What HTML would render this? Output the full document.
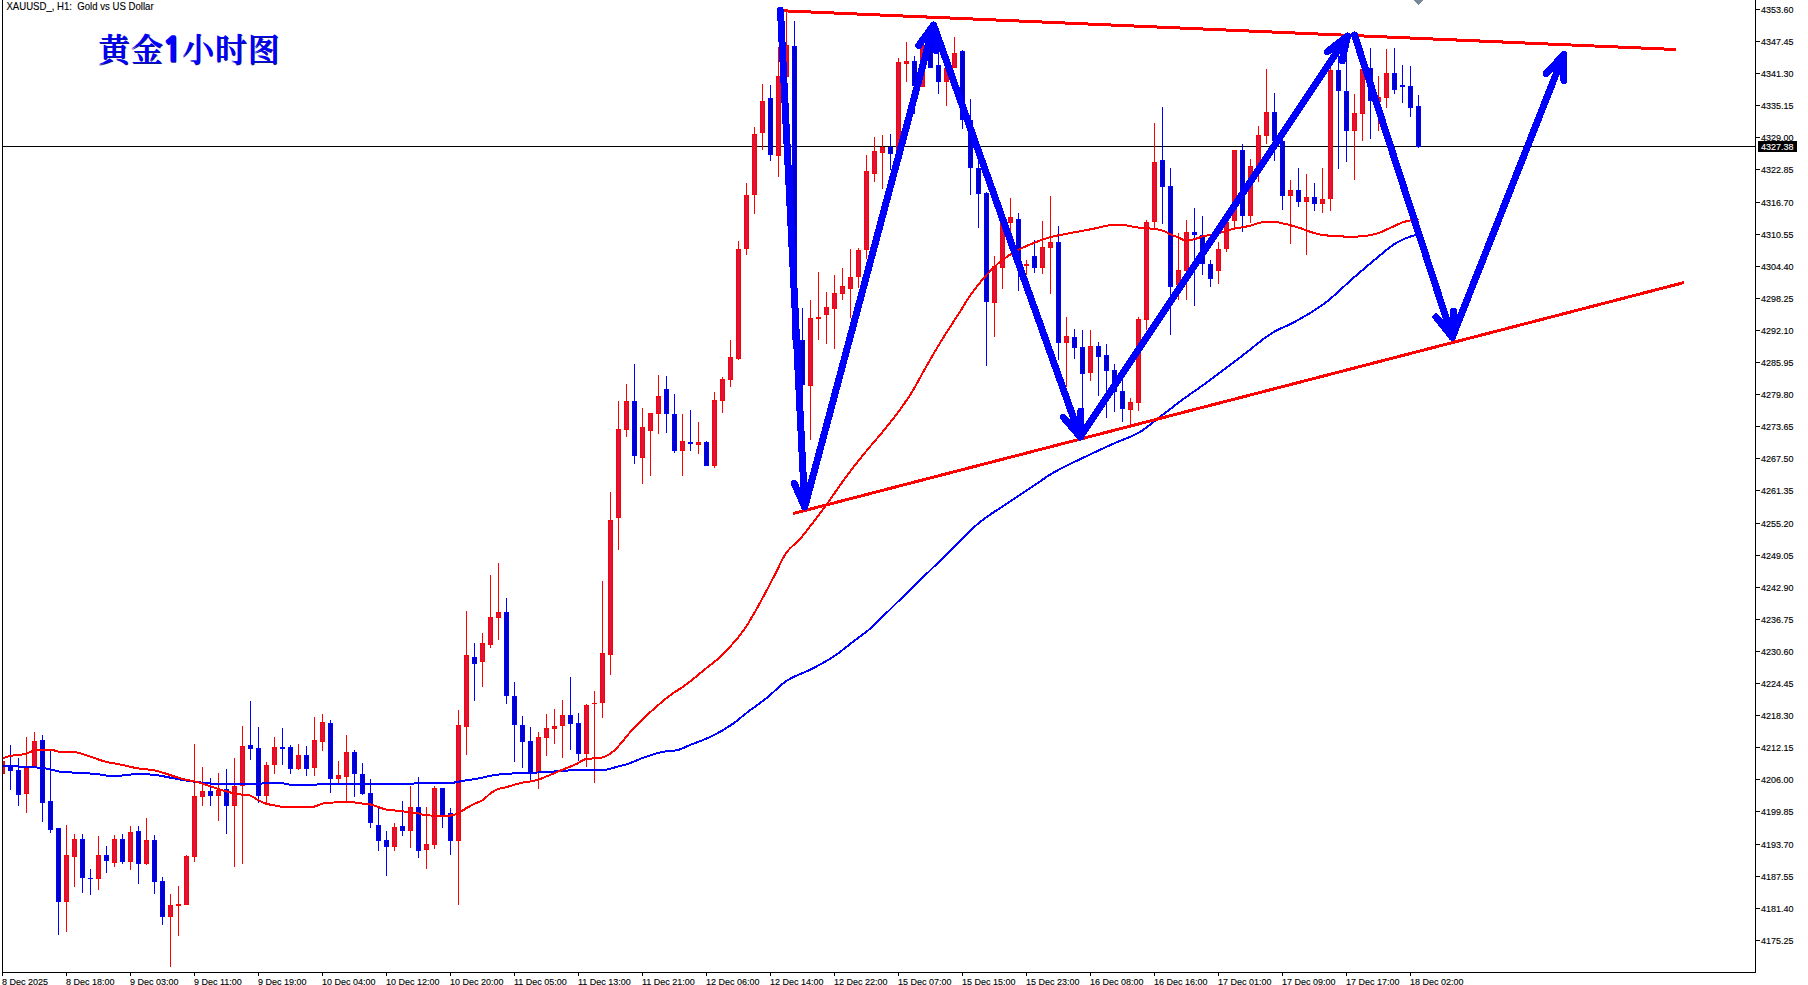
<!DOCTYPE html>
<html lang="zh"><head><meta charset="utf-8"><title>XAUUSD H1</title>
<style>
html,body{margin:0;padding:0;background:#fff;overflow:hidden}
body{width:1808px;height:985px;position:relative;font-family:"Liberation Sans","Noto Sans CJK SC",sans-serif}
svg{position:absolute;left:0;top:0;display:block}
.ax{font-family:"Liberation Sans",sans-serif;font-size:9px;fill:#000;stroke:#000;stroke-width:.12px}
.hd{font-family:"Liberation Sans",sans-serif;font-size:9.6px;fill:#000;stroke:#000;stroke-width:.12px}
.ttl{font-family:"Liberation Sans","Noto Serif CJK SC","Noto Sans CJK SC",serif;font-weight:600;font-size:32px;fill:#0000ff;letter-spacing:.8px}
.one{font-family:"NanumGothic","Liberation Sans",sans-serif;font-weight:bold;font-size:34px;stroke:currentColor;stroke-width:1.6px;stroke-linejoin:miter}
</style></head><body>
<svg width="1808" height="985" viewBox="0 0 1808 985">
<rect width="1808" height="985" fill="#fff"/>
<defs><clipPath id="plot"><rect x="3" y="0" width="1752" height="972"/></clipPath></defs>
<g shape-rendering="crispEdges">
<rect x="3" y="146" width="1753" height="1" fill="#000"/>
</g>
<g clip-path="url(#plot)" shape-rendering="crispEdges">
<rect x="2" y="761" width="1" height="13" fill="#ff0000"/>
<rect x="0" y="761" width="5" height="13" fill="#ff0000"/>
<rect x="1" y="762" width="3" height="11" fill="#dc143c"/>
<rect x="10" y="745" width="1" height="45" fill="#0000ff"/>
<rect x="8" y="765" width="5" height="6" fill="#0000ff"/>
<rect x="9" y="766" width="3" height="4" fill="#0000cd"/>
<rect x="18" y="758" width="1" height="48" fill="#0000ff"/>
<rect x="16" y="770" width="5" height="25" fill="#0000ff"/>
<rect x="17" y="771" width="3" height="23" fill="#0000cd"/>
<rect x="26" y="737" width="1" height="76" fill="#ff0000"/>
<rect x="24" y="768" width="5" height="26" fill="#ff0000"/>
<rect x="25" y="769" width="3" height="24" fill="#dc143c"/>
<rect x="34" y="732" width="1" height="35" fill="#ff0000"/>
<rect x="32" y="741" width="5" height="26" fill="#ff0000"/>
<rect x="33" y="742" width="3" height="24" fill="#dc143c"/>
<rect x="42" y="735" width="1" height="87" fill="#0000ff"/>
<rect x="40" y="740" width="5" height="63" fill="#0000ff"/>
<rect x="41" y="741" width="3" height="61" fill="#0000cd"/>
<rect x="50" y="750" width="1" height="83" fill="#0000ff"/>
<rect x="48" y="801" width="5" height="29" fill="#0000ff"/>
<rect x="49" y="802" width="3" height="27" fill="#0000cd"/>
<rect x="58" y="828" width="1" height="107" fill="#0000ff"/>
<rect x="56" y="828" width="5" height="74" fill="#0000ff"/>
<rect x="57" y="829" width="3" height="72" fill="#0000cd"/>
<rect x="66" y="825" width="1" height="107" fill="#ff0000"/>
<rect x="64" y="855" width="5" height="47" fill="#ff0000"/>
<rect x="65" y="856" width="3" height="45" fill="#dc143c"/>
<rect x="74" y="834" width="1" height="53" fill="#ff0000"/>
<rect x="72" y="839" width="5" height="18" fill="#ff0000"/>
<rect x="73" y="840" width="3" height="16" fill="#dc143c"/>
<rect x="82" y="834" width="1" height="59" fill="#0000ff"/>
<rect x="80" y="839" width="5" height="39" fill="#0000ff"/>
<rect x="81" y="840" width="3" height="37" fill="#0000cd"/>
<rect x="90" y="869" width="1" height="26" fill="#0000ff"/>
<rect x="88" y="878" width="5" height="1" fill="#0000ff"/>
<rect x="98" y="836" width="1" height="54" fill="#ff0000"/>
<rect x="96" y="855" width="5" height="24" fill="#ff0000"/>
<rect x="97" y="856" width="3" height="22" fill="#dc143c"/>
<rect x="106" y="846" width="1" height="27" fill="#0000ff"/>
<rect x="104" y="855" width="5" height="6" fill="#0000ff"/>
<rect x="105" y="856" width="3" height="4" fill="#0000cd"/>
<rect x="114" y="835" width="1" height="32" fill="#ff0000"/>
<rect x="112" y="839" width="5" height="24" fill="#ff0000"/>
<rect x="113" y="840" width="3" height="22" fill="#dc143c"/>
<rect x="122" y="834" width="1" height="30" fill="#0000ff"/>
<rect x="120" y="839" width="5" height="23" fill="#0000ff"/>
<rect x="121" y="840" width="3" height="21" fill="#0000cd"/>
<rect x="130" y="826" width="1" height="44" fill="#ff0000"/>
<rect x="128" y="832" width="5" height="30" fill="#ff0000"/>
<rect x="129" y="833" width="3" height="28" fill="#dc143c"/>
<rect x="138" y="826" width="1" height="58" fill="#0000ff"/>
<rect x="136" y="831" width="5" height="33" fill="#0000ff"/>
<rect x="137" y="832" width="3" height="31" fill="#0000cd"/>
<rect x="146" y="818" width="1" height="47" fill="#ff0000"/>
<rect x="144" y="840" width="5" height="24" fill="#ff0000"/>
<rect x="145" y="841" width="3" height="22" fill="#dc143c"/>
<rect x="154" y="835" width="1" height="59" fill="#0000ff"/>
<rect x="152" y="840" width="5" height="42" fill="#0000ff"/>
<rect x="153" y="841" width="3" height="40" fill="#0000cd"/>
<rect x="162" y="877" width="1" height="48" fill="#0000ff"/>
<rect x="160" y="881" width="5" height="36" fill="#0000ff"/>
<rect x="161" y="882" width="3" height="34" fill="#0000cd"/>
<rect x="170" y="894" width="1" height="73" fill="#ff0000"/>
<rect x="168" y="905" width="5" height="12" fill="#ff0000"/>
<rect x="169" y="906" width="3" height="10" fill="#dc143c"/>
<rect x="178" y="886" width="1" height="50" fill="#ff0000"/>
<rect x="176" y="904" width="5" height="2" fill="#ff0000"/>
<rect x="186" y="855" width="1" height="50" fill="#ff0000"/>
<rect x="184" y="856" width="5" height="49" fill="#ff0000"/>
<rect x="185" y="857" width="3" height="47" fill="#dc143c"/>
<rect x="194" y="744" width="1" height="118" fill="#ff0000"/>
<rect x="192" y="796" width="5" height="61" fill="#ff0000"/>
<rect x="193" y="797" width="3" height="59" fill="#dc143c"/>
<rect x="202" y="767" width="1" height="39" fill="#ff0000"/>
<rect x="200" y="791" width="5" height="6" fill="#ff0000"/>
<rect x="201" y="792" width="3" height="4" fill="#dc143c"/>
<rect x="210" y="778" width="1" height="28" fill="#0000ff"/>
<rect x="208" y="791" width="5" height="5" fill="#0000ff"/>
<rect x="209" y="792" width="3" height="3" fill="#0000cd"/>
<rect x="218" y="773" width="1" height="48" fill="#ff0000"/>
<rect x="216" y="790" width="5" height="6" fill="#ff0000"/>
<rect x="217" y="791" width="3" height="4" fill="#dc143c"/>
<rect x="226" y="769" width="1" height="65" fill="#0000ff"/>
<rect x="224" y="789" width="5" height="17" fill="#0000ff"/>
<rect x="225" y="790" width="3" height="15" fill="#0000cd"/>
<rect x="234" y="758" width="1" height="109" fill="#ff0000"/>
<rect x="232" y="786" width="5" height="20" fill="#ff0000"/>
<rect x="233" y="787" width="3" height="18" fill="#dc143c"/>
<rect x="242" y="726" width="1" height="138" fill="#ff0000"/>
<rect x="240" y="746" width="5" height="40" fill="#ff0000"/>
<rect x="241" y="747" width="3" height="38" fill="#dc143c"/>
<rect x="250" y="701" width="1" height="59" fill="#0000ff"/>
<rect x="248" y="745" width="5" height="4" fill="#0000ff"/>
<rect x="249" y="746" width="3" height="2" fill="#0000cd"/>
<rect x="258" y="727" width="1" height="76" fill="#0000ff"/>
<rect x="256" y="748" width="5" height="48" fill="#0000ff"/>
<rect x="257" y="749" width="3" height="46" fill="#0000cd"/>
<rect x="266" y="762" width="1" height="43" fill="#ff0000"/>
<rect x="264" y="765" width="5" height="31" fill="#ff0000"/>
<rect x="265" y="766" width="3" height="29" fill="#dc143c"/>
<rect x="274" y="737" width="1" height="37" fill="#ff0000"/>
<rect x="272" y="747" width="5" height="18" fill="#ff0000"/>
<rect x="273" y="748" width="3" height="16" fill="#dc143c"/>
<rect x="282" y="728" width="1" height="37" fill="#0000ff"/>
<rect x="280" y="747" width="5" height="2" fill="#0000ff"/>
<rect x="290" y="745" width="1" height="29" fill="#0000ff"/>
<rect x="288" y="747" width="5" height="22" fill="#0000ff"/>
<rect x="289" y="748" width="3" height="20" fill="#0000cd"/>
<rect x="298" y="744" width="1" height="26" fill="#ff0000"/>
<rect x="296" y="755" width="5" height="14" fill="#ff0000"/>
<rect x="297" y="756" width="3" height="12" fill="#dc143c"/>
<rect x="306" y="746" width="1" height="30" fill="#0000ff"/>
<rect x="304" y="755" width="5" height="14" fill="#0000ff"/>
<rect x="305" y="756" width="3" height="12" fill="#0000cd"/>
<rect x="314" y="717" width="1" height="59" fill="#ff0000"/>
<rect x="312" y="740" width="5" height="28" fill="#ff0000"/>
<rect x="313" y="741" width="3" height="26" fill="#dc143c"/>
<rect x="322" y="714" width="1" height="37" fill="#ff0000"/>
<rect x="320" y="722" width="5" height="20" fill="#ff0000"/>
<rect x="321" y="723" width="3" height="18" fill="#dc143c"/>
<rect x="330" y="720" width="1" height="73" fill="#0000ff"/>
<rect x="328" y="723" width="5" height="56" fill="#0000ff"/>
<rect x="329" y="724" width="3" height="54" fill="#0000cd"/>
<rect x="338" y="761" width="1" height="22" fill="#ff0000"/>
<rect x="336" y="775" width="5" height="4" fill="#ff0000"/>
<rect x="337" y="776" width="3" height="2" fill="#dc143c"/>
<rect x="346" y="735" width="1" height="67" fill="#ff0000"/>
<rect x="344" y="752" width="5" height="25" fill="#ff0000"/>
<rect x="345" y="753" width="3" height="23" fill="#dc143c"/>
<rect x="354" y="750" width="1" height="47" fill="#0000ff"/>
<rect x="352" y="752" width="5" height="22" fill="#0000ff"/>
<rect x="353" y="753" width="3" height="20" fill="#0000cd"/>
<rect x="362" y="763" width="1" height="32" fill="#0000ff"/>
<rect x="360" y="774" width="5" height="20" fill="#0000ff"/>
<rect x="361" y="775" width="3" height="18" fill="#0000cd"/>
<rect x="370" y="779" width="1" height="49" fill="#0000ff"/>
<rect x="368" y="793" width="5" height="30" fill="#0000ff"/>
<rect x="369" y="794" width="3" height="28" fill="#0000cd"/>
<rect x="378" y="808" width="1" height="43" fill="#0000ff"/>
<rect x="376" y="825" width="5" height="16" fill="#0000ff"/>
<rect x="377" y="826" width="3" height="14" fill="#0000cd"/>
<rect x="386" y="831" width="1" height="45" fill="#0000ff"/>
<rect x="384" y="840" width="5" height="7" fill="#0000ff"/>
<rect x="385" y="841" width="3" height="5" fill="#0000cd"/>
<rect x="394" y="823" width="1" height="28" fill="#ff0000"/>
<rect x="392" y="827" width="5" height="20" fill="#ff0000"/>
<rect x="393" y="828" width="3" height="18" fill="#dc143c"/>
<rect x="402" y="801" width="1" height="35" fill="#0000ff"/>
<rect x="400" y="826" width="5" height="5" fill="#0000ff"/>
<rect x="401" y="827" width="3" height="3" fill="#0000cd"/>
<rect x="410" y="786" width="1" height="62" fill="#ff0000"/>
<rect x="408" y="807" width="5" height="24" fill="#ff0000"/>
<rect x="409" y="808" width="3" height="22" fill="#dc143c"/>
<rect x="418" y="777" width="1" height="81" fill="#0000ff"/>
<rect x="416" y="807" width="5" height="44" fill="#0000ff"/>
<rect x="417" y="808" width="3" height="42" fill="#0000cd"/>
<rect x="426" y="807" width="1" height="62" fill="#ff0000"/>
<rect x="424" y="844" width="5" height="6" fill="#ff0000"/>
<rect x="425" y="845" width="3" height="4" fill="#dc143c"/>
<rect x="434" y="786" width="1" height="63" fill="#ff0000"/>
<rect x="432" y="788" width="5" height="57" fill="#ff0000"/>
<rect x="433" y="789" width="3" height="55" fill="#dc143c"/>
<rect x="442" y="788" width="1" height="40" fill="#0000ff"/>
<rect x="440" y="788" width="5" height="27" fill="#0000ff"/>
<rect x="441" y="789" width="3" height="25" fill="#0000cd"/>
<rect x="450" y="808" width="1" height="47" fill="#0000ff"/>
<rect x="448" y="813" width="5" height="28" fill="#0000ff"/>
<rect x="449" y="814" width="3" height="26" fill="#0000cd"/>
<rect x="458" y="710" width="1" height="195" fill="#ff0000"/>
<rect x="456" y="725" width="5" height="116" fill="#ff0000"/>
<rect x="457" y="726" width="3" height="114" fill="#dc143c"/>
<rect x="466" y="611" width="1" height="144" fill="#ff0000"/>
<rect x="464" y="655" width="5" height="72" fill="#ff0000"/>
<rect x="465" y="656" width="3" height="70" fill="#dc143c"/>
<rect x="474" y="643" width="1" height="58" fill="#0000ff"/>
<rect x="472" y="657" width="5" height="7" fill="#0000ff"/>
<rect x="473" y="658" width="3" height="5" fill="#0000cd"/>
<rect x="482" y="633" width="1" height="54" fill="#ff0000"/>
<rect x="480" y="643" width="5" height="19" fill="#ff0000"/>
<rect x="481" y="644" width="3" height="17" fill="#dc143c"/>
<rect x="490" y="575" width="1" height="73" fill="#ff0000"/>
<rect x="488" y="617" width="5" height="28" fill="#ff0000"/>
<rect x="489" y="618" width="3" height="26" fill="#dc143c"/>
<rect x="498" y="563" width="1" height="77" fill="#ff0000"/>
<rect x="496" y="612" width="5" height="6" fill="#ff0000"/>
<rect x="497" y="613" width="3" height="4" fill="#dc143c"/>
<rect x="506" y="598" width="1" height="106" fill="#0000ff"/>
<rect x="504" y="612" width="5" height="84" fill="#0000ff"/>
<rect x="505" y="613" width="3" height="82" fill="#0000cd"/>
<rect x="514" y="682" width="1" height="80" fill="#0000ff"/>
<rect x="512" y="696" width="5" height="29" fill="#0000ff"/>
<rect x="513" y="697" width="3" height="27" fill="#0000cd"/>
<rect x="522" y="716" width="1" height="52" fill="#0000ff"/>
<rect x="520" y="725" width="5" height="17" fill="#0000ff"/>
<rect x="521" y="726" width="3" height="15" fill="#0000cd"/>
<rect x="530" y="727" width="1" height="53" fill="#0000ff"/>
<rect x="528" y="741" width="5" height="32" fill="#0000ff"/>
<rect x="529" y="742" width="3" height="30" fill="#0000cd"/>
<rect x="538" y="732" width="1" height="57" fill="#ff0000"/>
<rect x="536" y="737" width="5" height="36" fill="#ff0000"/>
<rect x="537" y="738" width="3" height="34" fill="#dc143c"/>
<rect x="546" y="714" width="1" height="42" fill="#ff0000"/>
<rect x="544" y="728" width="5" height="10" fill="#ff0000"/>
<rect x="545" y="729" width="3" height="8" fill="#dc143c"/>
<rect x="554" y="709" width="1" height="35" fill="#ff0000"/>
<rect x="552" y="726" width="5" height="3" fill="#ff0000"/>
<rect x="553" y="727" width="3" height="1" fill="#dc143c"/>
<rect x="562" y="700" width="1" height="58" fill="#ff0000"/>
<rect x="560" y="715" width="5" height="11" fill="#ff0000"/>
<rect x="561" y="716" width="3" height="9" fill="#dc143c"/>
<rect x="570" y="677" width="1" height="73" fill="#0000ff"/>
<rect x="568" y="715" width="5" height="9" fill="#0000ff"/>
<rect x="569" y="716" width="3" height="7" fill="#0000cd"/>
<rect x="578" y="713" width="1" height="48" fill="#0000ff"/>
<rect x="576" y="723" width="5" height="31" fill="#0000ff"/>
<rect x="577" y="724" width="3" height="29" fill="#0000cd"/>
<rect x="586" y="704" width="1" height="63" fill="#ff0000"/>
<rect x="584" y="705" width="5" height="49" fill="#ff0000"/>
<rect x="585" y="706" width="3" height="47" fill="#dc143c"/>
<rect x="594" y="691" width="1" height="92" fill="#ff0000"/>
<rect x="592" y="703" width="5" height="1" fill="#ff0000"/>
<rect x="602" y="581" width="1" height="137" fill="#ff0000"/>
<rect x="600" y="653" width="5" height="50" fill="#ff0000"/>
<rect x="601" y="654" width="3" height="48" fill="#dc143c"/>
<rect x="610" y="492" width="1" height="183" fill="#ff0000"/>
<rect x="608" y="520" width="5" height="135" fill="#ff0000"/>
<rect x="609" y="521" width="3" height="133" fill="#dc143c"/>
<rect x="618" y="401" width="1" height="149" fill="#ff0000"/>
<rect x="616" y="429" width="5" height="89" fill="#ff0000"/>
<rect x="617" y="430" width="3" height="87" fill="#dc143c"/>
<rect x="626" y="384" width="1" height="53" fill="#ff0000"/>
<rect x="624" y="401" width="5" height="29" fill="#ff0000"/>
<rect x="625" y="402" width="3" height="27" fill="#dc143c"/>
<rect x="634" y="364" width="1" height="100" fill="#0000ff"/>
<rect x="632" y="401" width="5" height="55" fill="#0000ff"/>
<rect x="633" y="402" width="3" height="53" fill="#0000cd"/>
<rect x="642" y="408" width="1" height="76" fill="#ff0000"/>
<rect x="640" y="427" width="5" height="31" fill="#ff0000"/>
<rect x="641" y="428" width="3" height="29" fill="#dc143c"/>
<rect x="650" y="413" width="1" height="63" fill="#ff0000"/>
<rect x="648" y="413" width="5" height="18" fill="#ff0000"/>
<rect x="649" y="414" width="3" height="16" fill="#dc143c"/>
<rect x="658" y="375" width="1" height="59" fill="#ff0000"/>
<rect x="656" y="396" width="5" height="18" fill="#ff0000"/>
<rect x="657" y="397" width="3" height="16" fill="#dc143c"/>
<rect x="666" y="376" width="1" height="57" fill="#0000ff"/>
<rect x="664" y="389" width="5" height="25" fill="#0000ff"/>
<rect x="665" y="390" width="3" height="23" fill="#0000cd"/>
<rect x="674" y="394" width="1" height="59" fill="#0000ff"/>
<rect x="672" y="414" width="5" height="37" fill="#0000ff"/>
<rect x="673" y="415" width="3" height="35" fill="#0000cd"/>
<rect x="682" y="414" width="1" height="62" fill="#ff0000"/>
<rect x="680" y="441" width="5" height="10" fill="#ff0000"/>
<rect x="681" y="442" width="3" height="8" fill="#dc143c"/>
<rect x="690" y="410" width="1" height="41" fill="#0000ff"/>
<rect x="688" y="442" width="5" height="2" fill="#0000ff"/>
<rect x="698" y="422" width="1" height="32" fill="#ff0000"/>
<rect x="696" y="442" width="5" height="3" fill="#ff0000"/>
<rect x="697" y="443" width="3" height="1" fill="#dc143c"/>
<rect x="706" y="441" width="1" height="25" fill="#0000ff"/>
<rect x="704" y="442" width="5" height="24" fill="#0000ff"/>
<rect x="705" y="443" width="3" height="22" fill="#0000cd"/>
<rect x="714" y="392" width="1" height="76" fill="#ff0000"/>
<rect x="712" y="400" width="5" height="66" fill="#ff0000"/>
<rect x="713" y="401" width="3" height="64" fill="#dc143c"/>
<rect x="722" y="377" width="1" height="36" fill="#ff0000"/>
<rect x="720" y="379" width="5" height="22" fill="#ff0000"/>
<rect x="721" y="380" width="3" height="20" fill="#dc143c"/>
<rect x="730" y="340" width="1" height="47" fill="#ff0000"/>
<rect x="728" y="357" width="5" height="23" fill="#ff0000"/>
<rect x="729" y="358" width="3" height="21" fill="#dc143c"/>
<rect x="738" y="241" width="1" height="119" fill="#ff0000"/>
<rect x="736" y="249" width="5" height="110" fill="#ff0000"/>
<rect x="737" y="250" width="3" height="108" fill="#dc143c"/>
<rect x="746" y="183" width="1" height="72" fill="#ff0000"/>
<rect x="744" y="195" width="5" height="54" fill="#ff0000"/>
<rect x="745" y="196" width="3" height="52" fill="#dc143c"/>
<rect x="754" y="127" width="1" height="87" fill="#ff0000"/>
<rect x="752" y="134" width="5" height="61" fill="#ff0000"/>
<rect x="753" y="135" width="3" height="59" fill="#dc143c"/>
<rect x="762" y="84" width="1" height="66" fill="#ff0000"/>
<rect x="760" y="101" width="5" height="32" fill="#ff0000"/>
<rect x="761" y="102" width="3" height="30" fill="#dc143c"/>
<rect x="770" y="85" width="1" height="76" fill="#0000ff"/>
<rect x="768" y="98" width="5" height="57" fill="#0000ff"/>
<rect x="769" y="99" width="3" height="55" fill="#0000cd"/>
<rect x="778" y="47" width="1" height="130" fill="#ff0000"/>
<rect x="776" y="76" width="5" height="80" fill="#ff0000"/>
<rect x="777" y="77" width="3" height="78" fill="#dc143c"/>
<rect x="786" y="10" width="1" height="67" fill="#ff0000"/>
<rect x="784" y="45" width="5" height="32" fill="#ff0000"/>
<rect x="785" y="46" width="3" height="30" fill="#dc143c"/>
<rect x="794" y="21" width="1" height="324" fill="#0000ff"/>
<rect x="792" y="46" width="5" height="294" fill="#0000ff"/>
<rect x="793" y="47" width="3" height="292" fill="#0000cd"/>
<rect x="802" y="308" width="1" height="132" fill="#0000ff"/>
<rect x="800" y="340" width="5" height="45" fill="#0000ff"/>
<rect x="801" y="341" width="3" height="43" fill="#0000cd"/>
<rect x="810" y="300" width="1" height="140" fill="#ff0000"/>
<rect x="808" y="318" width="5" height="68" fill="#ff0000"/>
<rect x="809" y="319" width="3" height="66" fill="#dc143c"/>
<rect x="818" y="272" width="1" height="68" fill="#ff0000"/>
<rect x="816" y="317" width="5" height="2" fill="#ff0000"/>
<rect x="826" y="292" width="1" height="52" fill="#ff0000"/>
<rect x="824" y="307" width="5" height="8" fill="#ff0000"/>
<rect x="825" y="308" width="3" height="6" fill="#dc143c"/>
<rect x="834" y="275" width="1" height="74" fill="#ff0000"/>
<rect x="832" y="293" width="5" height="16" fill="#ff0000"/>
<rect x="833" y="294" width="3" height="14" fill="#dc143c"/>
<rect x="842" y="268" width="1" height="32" fill="#ff0000"/>
<rect x="840" y="286" width="5" height="8" fill="#ff0000"/>
<rect x="841" y="287" width="3" height="6" fill="#dc143c"/>
<rect x="850" y="249" width="1" height="69" fill="#ff0000"/>
<rect x="848" y="277" width="5" height="12" fill="#ff0000"/>
<rect x="849" y="278" width="3" height="10" fill="#dc143c"/>
<rect x="858" y="248" width="1" height="40" fill="#ff0000"/>
<rect x="856" y="250" width="5" height="27" fill="#ff0000"/>
<rect x="857" y="251" width="3" height="25" fill="#dc143c"/>
<rect x="866" y="155" width="1" height="104" fill="#ff0000"/>
<rect x="864" y="171" width="5" height="79" fill="#ff0000"/>
<rect x="865" y="172" width="3" height="77" fill="#dc143c"/>
<rect x="874" y="137" width="1" height="45" fill="#ff0000"/>
<rect x="872" y="151" width="5" height="23" fill="#ff0000"/>
<rect x="873" y="152" width="3" height="21" fill="#dc143c"/>
<rect x="882" y="135" width="1" height="54" fill="#ff0000"/>
<rect x="880" y="147" width="5" height="6" fill="#ff0000"/>
<rect x="881" y="148" width="3" height="4" fill="#dc143c"/>
<rect x="890" y="134" width="1" height="36" fill="#0000ff"/>
<rect x="888" y="147" width="5" height="7" fill="#0000ff"/>
<rect x="889" y="148" width="3" height="5" fill="#0000cd"/>
<rect x="898" y="58" width="1" height="98" fill="#ff0000"/>
<rect x="896" y="62" width="5" height="91" fill="#ff0000"/>
<rect x="897" y="63" width="3" height="89" fill="#dc143c"/>
<rect x="906" y="42" width="1" height="40" fill="#ff0000"/>
<rect x="904" y="61" width="5" height="3" fill="#ff0000"/>
<rect x="905" y="62" width="3" height="1" fill="#dc143c"/>
<rect x="914" y="56" width="1" height="58" fill="#0000ff"/>
<rect x="912" y="61" width="5" height="25" fill="#0000ff"/>
<rect x="913" y="62" width="3" height="23" fill="#0000cd"/>
<rect x="922" y="35" width="1" height="52" fill="#ff0000"/>
<rect x="920" y="45" width="5" height="42" fill="#ff0000"/>
<rect x="921" y="46" width="3" height="40" fill="#dc143c"/>
<rect x="930" y="32" width="1" height="36" fill="#0000ff"/>
<rect x="928" y="44" width="5" height="24" fill="#0000ff"/>
<rect x="929" y="45" width="3" height="22" fill="#0000cd"/>
<rect x="938" y="50" width="1" height="44" fill="#0000ff"/>
<rect x="936" y="65" width="5" height="17" fill="#0000ff"/>
<rect x="937" y="66" width="3" height="15" fill="#0000cd"/>
<rect x="946" y="62" width="1" height="44" fill="#ff0000"/>
<rect x="944" y="68" width="5" height="14" fill="#ff0000"/>
<rect x="945" y="69" width="3" height="12" fill="#dc143c"/>
<rect x="954" y="37" width="1" height="31" fill="#ff0000"/>
<rect x="952" y="53" width="5" height="15" fill="#ff0000"/>
<rect x="953" y="54" width="3" height="13" fill="#dc143c"/>
<rect x="962" y="50" width="1" height="79" fill="#0000ff"/>
<rect x="960" y="51" width="5" height="69" fill="#0000ff"/>
<rect x="961" y="52" width="3" height="67" fill="#0000cd"/>
<rect x="970" y="99" width="1" height="96" fill="#0000ff"/>
<rect x="968" y="120" width="5" height="48" fill="#0000ff"/>
<rect x="969" y="121" width="3" height="46" fill="#0000cd"/>
<rect x="978" y="160" width="1" height="68" fill="#0000ff"/>
<rect x="976" y="168" width="5" height="26" fill="#0000ff"/>
<rect x="977" y="169" width="3" height="24" fill="#0000cd"/>
<rect x="986" y="192" width="1" height="174" fill="#0000ff"/>
<rect x="984" y="193" width="5" height="109" fill="#0000ff"/>
<rect x="985" y="194" width="3" height="107" fill="#0000cd"/>
<rect x="994" y="256" width="1" height="81" fill="#ff0000"/>
<rect x="992" y="266" width="5" height="37" fill="#ff0000"/>
<rect x="993" y="267" width="3" height="35" fill="#dc143c"/>
<rect x="1002" y="215" width="1" height="74" fill="#ff0000"/>
<rect x="1000" y="223" width="5" height="45" fill="#ff0000"/>
<rect x="1001" y="224" width="3" height="43" fill="#dc143c"/>
<rect x="1010" y="198" width="1" height="33" fill="#ff0000"/>
<rect x="1008" y="217" width="5" height="6" fill="#ff0000"/>
<rect x="1009" y="218" width="3" height="4" fill="#dc143c"/>
<rect x="1018" y="213" width="1" height="78" fill="#0000ff"/>
<rect x="1016" y="219" width="5" height="45" fill="#0000ff"/>
<rect x="1017" y="220" width="3" height="43" fill="#0000cd"/>
<rect x="1026" y="260" width="1" height="15" fill="#ff0000"/>
<rect x="1024" y="264" width="5" height="2" fill="#ff0000"/>
<rect x="1034" y="240" width="1" height="33" fill="#0000ff"/>
<rect x="1032" y="256" width="5" height="12" fill="#0000ff"/>
<rect x="1033" y="257" width="3" height="10" fill="#0000cd"/>
<rect x="1042" y="221" width="1" height="53" fill="#ff0000"/>
<rect x="1040" y="247" width="5" height="21" fill="#ff0000"/>
<rect x="1041" y="248" width="3" height="19" fill="#dc143c"/>
<rect x="1050" y="196" width="1" height="98" fill="#ff0000"/>
<rect x="1048" y="242" width="5" height="6" fill="#ff0000"/>
<rect x="1049" y="243" width="3" height="4" fill="#dc143c"/>
<rect x="1058" y="226" width="1" height="134" fill="#0000ff"/>
<rect x="1056" y="242" width="5" height="101" fill="#0000ff"/>
<rect x="1057" y="243" width="3" height="99" fill="#0000cd"/>
<rect x="1066" y="317" width="1" height="70" fill="#ff0000"/>
<rect x="1064" y="336" width="5" height="7" fill="#ff0000"/>
<rect x="1065" y="337" width="3" height="5" fill="#dc143c"/>
<rect x="1074" y="329" width="1" height="30" fill="#0000ff"/>
<rect x="1072" y="337" width="5" height="11" fill="#0000ff"/>
<rect x="1073" y="338" width="3" height="9" fill="#0000cd"/>
<rect x="1082" y="330" width="1" height="78" fill="#0000ff"/>
<rect x="1080" y="347" width="5" height="27" fill="#0000ff"/>
<rect x="1081" y="348" width="3" height="25" fill="#0000cd"/>
<rect x="1090" y="330" width="1" height="51" fill="#ff0000"/>
<rect x="1088" y="346" width="5" height="27" fill="#ff0000"/>
<rect x="1089" y="347" width="3" height="25" fill="#dc143c"/>
<rect x="1098" y="342" width="1" height="54" fill="#0000ff"/>
<rect x="1096" y="346" width="5" height="11" fill="#0000ff"/>
<rect x="1097" y="347" width="3" height="9" fill="#0000cd"/>
<rect x="1106" y="344" width="1" height="74" fill="#0000ff"/>
<rect x="1104" y="355" width="5" height="16" fill="#0000ff"/>
<rect x="1105" y="356" width="3" height="14" fill="#0000cd"/>
<rect x="1114" y="364" width="1" height="48" fill="#0000ff"/>
<rect x="1112" y="370" width="5" height="22" fill="#0000ff"/>
<rect x="1113" y="371" width="3" height="20" fill="#0000cd"/>
<rect x="1122" y="378" width="1" height="44" fill="#0000ff"/>
<rect x="1120" y="391" width="5" height="18" fill="#0000ff"/>
<rect x="1121" y="392" width="3" height="16" fill="#0000cd"/>
<rect x="1130" y="398" width="1" height="27" fill="#ff0000"/>
<rect x="1128" y="402" width="5" height="8" fill="#ff0000"/>
<rect x="1129" y="403" width="3" height="6" fill="#dc143c"/>
<rect x="1138" y="317" width="1" height="94" fill="#ff0000"/>
<rect x="1136" y="319" width="5" height="84" fill="#ff0000"/>
<rect x="1137" y="320" width="3" height="82" fill="#dc143c"/>
<rect x="1146" y="220" width="1" height="110" fill="#ff0000"/>
<rect x="1144" y="222" width="5" height="98" fill="#ff0000"/>
<rect x="1145" y="223" width="3" height="96" fill="#dc143c"/>
<rect x="1154" y="123" width="1" height="106" fill="#ff0000"/>
<rect x="1152" y="162" width="5" height="60" fill="#ff0000"/>
<rect x="1153" y="163" width="3" height="58" fill="#dc143c"/>
<rect x="1162" y="107" width="1" height="117" fill="#0000ff"/>
<rect x="1160" y="160" width="5" height="27" fill="#0000ff"/>
<rect x="1161" y="161" width="3" height="25" fill="#0000cd"/>
<rect x="1170" y="168" width="1" height="167" fill="#0000ff"/>
<rect x="1168" y="186" width="5" height="101" fill="#0000ff"/>
<rect x="1169" y="187" width="3" height="99" fill="#0000cd"/>
<rect x="1178" y="233" width="1" height="67" fill="#ff0000"/>
<rect x="1176" y="270" width="5" height="15" fill="#ff0000"/>
<rect x="1177" y="271" width="3" height="13" fill="#dc143c"/>
<rect x="1186" y="220" width="1" height="80" fill="#ff0000"/>
<rect x="1184" y="232" width="5" height="39" fill="#ff0000"/>
<rect x="1185" y="233" width="3" height="37" fill="#dc143c"/>
<rect x="1194" y="208" width="1" height="98" fill="#0000ff"/>
<rect x="1192" y="232" width="5" height="3" fill="#0000ff"/>
<rect x="1193" y="233" width="3" height="1" fill="#0000cd"/>
<rect x="1202" y="216" width="1" height="59" fill="#0000ff"/>
<rect x="1200" y="235" width="5" height="29" fill="#0000ff"/>
<rect x="1201" y="236" width="3" height="27" fill="#0000cd"/>
<rect x="1210" y="260" width="1" height="27" fill="#0000ff"/>
<rect x="1208" y="264" width="5" height="15" fill="#0000ff"/>
<rect x="1209" y="265" width="3" height="13" fill="#0000cd"/>
<rect x="1218" y="242" width="1" height="42" fill="#ff0000"/>
<rect x="1216" y="249" width="5" height="22" fill="#ff0000"/>
<rect x="1217" y="250" width="3" height="20" fill="#dc143c"/>
<rect x="1226" y="215" width="1" height="37" fill="#ff0000"/>
<rect x="1224" y="222" width="5" height="27" fill="#ff0000"/>
<rect x="1225" y="223" width="3" height="25" fill="#dc143c"/>
<rect x="1234" y="150" width="1" height="78" fill="#ff0000"/>
<rect x="1232" y="150" width="5" height="71" fill="#ff0000"/>
<rect x="1233" y="151" width="3" height="69" fill="#dc143c"/>
<rect x="1242" y="144" width="1" height="88" fill="#0000ff"/>
<rect x="1240" y="150" width="5" height="66" fill="#0000ff"/>
<rect x="1241" y="151" width="3" height="64" fill="#0000cd"/>
<rect x="1250" y="159" width="1" height="64" fill="#ff0000"/>
<rect x="1248" y="166" width="5" height="50" fill="#ff0000"/>
<rect x="1249" y="167" width="3" height="48" fill="#dc143c"/>
<rect x="1258" y="126" width="1" height="56" fill="#ff0000"/>
<rect x="1256" y="135" width="5" height="31" fill="#ff0000"/>
<rect x="1257" y="136" width="3" height="29" fill="#dc143c"/>
<rect x="1266" y="69" width="1" height="75" fill="#ff0000"/>
<rect x="1264" y="112" width="5" height="24" fill="#ff0000"/>
<rect x="1265" y="113" width="3" height="22" fill="#dc143c"/>
<rect x="1274" y="93" width="1" height="68" fill="#0000ff"/>
<rect x="1272" y="112" width="5" height="29" fill="#0000ff"/>
<rect x="1273" y="113" width="3" height="27" fill="#0000cd"/>
<rect x="1282" y="135" width="1" height="75" fill="#0000ff"/>
<rect x="1280" y="141" width="5" height="55" fill="#0000ff"/>
<rect x="1281" y="142" width="3" height="53" fill="#0000cd"/>
<rect x="1290" y="180" width="1" height="64" fill="#ff0000"/>
<rect x="1288" y="190" width="5" height="6" fill="#ff0000"/>
<rect x="1289" y="191" width="3" height="4" fill="#dc143c"/>
<rect x="1298" y="168" width="1" height="39" fill="#0000ff"/>
<rect x="1296" y="190" width="5" height="12" fill="#0000ff"/>
<rect x="1297" y="191" width="3" height="10" fill="#0000cd"/>
<rect x="1306" y="174" width="1" height="81" fill="#ff0000"/>
<rect x="1304" y="197" width="5" height="5" fill="#ff0000"/>
<rect x="1305" y="198" width="3" height="3" fill="#dc143c"/>
<rect x="1314" y="183" width="1" height="28" fill="#0000ff"/>
<rect x="1312" y="197" width="5" height="7" fill="#0000ff"/>
<rect x="1313" y="198" width="3" height="5" fill="#0000cd"/>
<rect x="1322" y="168" width="1" height="45" fill="#ff0000"/>
<rect x="1320" y="199" width="5" height="5" fill="#ff0000"/>
<rect x="1321" y="200" width="3" height="3" fill="#dc143c"/>
<rect x="1330" y="60" width="1" height="151" fill="#ff0000"/>
<rect x="1328" y="70" width="5" height="129" fill="#ff0000"/>
<rect x="1329" y="71" width="3" height="127" fill="#dc143c"/>
<rect x="1338" y="55" width="1" height="114" fill="#0000ff"/>
<rect x="1336" y="70" width="5" height="21" fill="#0000ff"/>
<rect x="1337" y="71" width="3" height="19" fill="#0000cd"/>
<rect x="1346" y="57" width="1" height="105" fill="#0000ff"/>
<rect x="1344" y="91" width="5" height="40" fill="#0000ff"/>
<rect x="1345" y="92" width="3" height="38" fill="#0000cd"/>
<rect x="1354" y="94" width="1" height="86" fill="#ff0000"/>
<rect x="1352" y="113" width="5" height="18" fill="#ff0000"/>
<rect x="1353" y="114" width="3" height="16" fill="#dc143c"/>
<rect x="1362" y="50" width="1" height="91" fill="#ff0000"/>
<rect x="1360" y="69" width="5" height="45" fill="#ff0000"/>
<rect x="1361" y="70" width="3" height="43" fill="#dc143c"/>
<rect x="1370" y="48" width="1" height="91" fill="#0000ff"/>
<rect x="1368" y="68" width="5" height="33" fill="#0000ff"/>
<rect x="1369" y="69" width="3" height="31" fill="#0000cd"/>
<rect x="1378" y="76" width="1" height="55" fill="#ff0000"/>
<rect x="1376" y="97" width="5" height="5" fill="#ff0000"/>
<rect x="1377" y="98" width="3" height="3" fill="#dc143c"/>
<rect x="1386" y="49" width="1" height="59" fill="#ff0000"/>
<rect x="1384" y="73" width="5" height="25" fill="#ff0000"/>
<rect x="1385" y="74" width="3" height="23" fill="#dc143c"/>
<rect x="1394" y="48" width="1" height="46" fill="#0000ff"/>
<rect x="1392" y="73" width="5" height="17" fill="#0000ff"/>
<rect x="1393" y="74" width="3" height="15" fill="#0000cd"/>
<rect x="1402" y="65" width="1" height="38" fill="#0000ff"/>
<rect x="1400" y="85" width="5" height="2" fill="#0000ff"/>
<rect x="1410" y="66" width="1" height="51" fill="#0000ff"/>
<rect x="1408" y="86" width="5" height="22" fill="#0000ff"/>
<rect x="1409" y="87" width="3" height="20" fill="#0000cd"/>
<rect x="1418" y="95" width="1" height="53" fill="#0000ff"/>
<rect x="1416" y="106" width="5" height="41" fill="#0000ff"/>
<rect x="1417" y="107" width="3" height="39" fill="#0000cd"/>
</g>
<g clip-path="url(#plot)">
<polyline points="2.0,766.1 6.0,766.1 10.0,766.2 14.0,766.3 18.0,766.5 22.0,766.6 26.0,766.8 30.0,767.1 34.0,767.3 38.0,767.6 42.0,768.0 46.0,768.5 50.0,769.1 54.0,770.3 58.0,771.4 62.0,771.8 66.0,772.1 70.0,772.4 74.0,772.6 78.0,772.8 82.0,773.0 86.0,773.2 90.0,773.5 94.0,773.7 98.0,774.1 102.0,774.9 106.0,775.5 110.0,775.5 114.0,775.5 118.0,775.5 122.0,775.5 126.0,775.2 130.0,774.7 134.0,774.1 138.0,773.9 142.0,774.0 146.0,774.2 150.0,774.5 154.0,774.8 158.0,775.3 162.0,776.0 166.0,776.8 170.0,777.6 174.0,778.3 178.0,779.1 182.0,779.8 186.0,780.5 190.0,781.1 194.0,781.6 198.0,782.1 202.0,782.6 206.0,783.0 210.0,783.5 214.0,783.8 218.0,784.0 222.0,784.0 226.0,784.1 230.0,784.1 234.0,784.1 238.0,784.1 242.0,784.1 246.0,784.1 250.0,784.1 254.0,784.1 258.0,784.1 262.0,783.5 266.0,783.0 270.0,783.0 274.0,783.0 278.0,783.0 282.0,783.0 286.0,783.9 290.0,784.8 294.0,784.8 298.0,784.8 302.0,784.8 306.0,784.8 310.0,784.8 314.0,784.8 318.0,784.4 322.0,783.9 326.0,783.9 330.0,783.9 334.0,783.9 338.0,783.9 342.0,783.9 346.0,783.9 350.0,783.9 354.0,783.9 358.0,783.9 362.0,783.9 366.0,783.9 370.0,783.9 374.0,783.9 378.0,783.9 382.0,783.9 386.0,783.9 390.0,783.9 394.0,783.9 398.0,783.9 402.0,783.9 406.0,783.9 410.0,783.9 414.0,783.5 418.0,783.0 422.0,783.0 426.0,783.0 430.0,783.0 434.0,783.0 438.0,783.0 442.0,783.0 446.0,783.0 450.0,783.0 454.0,782.6 458.0,781.8 462.0,781.0 466.0,780.3 470.0,779.8 474.0,779.2 478.0,778.5 482.0,777.7 486.0,776.8 490.0,775.9 494.0,775.2 498.0,774.6 502.0,774.2 506.0,773.9 510.0,773.6 514.0,773.4 518.0,773.2 522.0,773.1 526.0,772.9 530.0,772.8 534.0,772.6 538.0,772.5 542.0,772.3 546.0,772.1 550.0,771.8 554.0,771.5 558.0,771.1 562.0,770.8 566.0,770.6 570.0,770.4 574.0,770.2 578.0,770.1 582.0,770.0 586.0,770.0 590.0,770.0 594.0,770.0 598.0,769.9 602.0,769.9 606.0,769.8 610.0,768.8 614.0,767.7 618.0,766.5 622.0,765.5 626.0,764.5 630.0,763.1 634.0,761.5 638.0,759.8 642.0,758.2 646.0,756.8 650.0,755.5 654.0,754.2 658.0,753.0 662.0,751.9 666.0,751.3 670.0,751.0 674.0,750.7 678.0,750.0 682.0,748.6 686.0,746.8 690.0,745.0 694.0,743.5 698.0,742.0 702.0,740.4 706.0,738.8 710.0,737.0 714.0,735.0 718.0,732.9 722.0,730.7 726.0,728.3 730.0,725.7 734.0,723.0 738.0,720.0 742.0,716.6 746.0,713.4 750.0,710.3 754.0,707.4 758.0,704.5 762.0,701.5 766.0,698.5 770.0,695.2 774.0,691.5 778.0,687.8 782.0,684.3 786.0,681.2 790.0,678.9 794.0,676.8 798.0,675.0 802.0,673.3 806.0,671.6 810.0,669.8 814.0,667.8 818.0,665.6 822.0,663.5 826.0,661.2 830.0,658.8 834.0,656.2 838.0,653.5 842.0,650.4 846.0,647.2 850.0,644.1 854.0,641.1 858.0,638.1 862.0,635.1 866.0,632.0 870.0,628.8 874.0,625.2 878.0,621.4 882.0,617.4 886.0,613.4 890.0,609.5 894.0,605.5 898.0,601.6 902.0,597.6 906.0,593.7 910.0,589.8 914.0,585.9 918.0,582.1 922.0,578.2 926.0,574.4 930.0,570.5 934.0,566.6 938.0,562.8 942.0,558.9 946.0,555.0 950.0,551.1 954.0,547.1 958.0,543.0 962.0,538.9 966.0,534.9 970.0,531.1 974.0,527.3 978.0,523.7 982.0,520.4 986.0,517.5 990.0,514.7 994.0,512.0 998.0,509.4 1002.0,506.8 1006.0,504.2 1010.0,501.5 1014.0,498.8 1018.0,496.2 1022.0,493.6 1026.0,490.9 1030.0,488.3 1034.0,485.6 1038.0,482.8 1042.0,480.0 1046.0,477.3 1050.0,474.7 1054.0,472.3 1058.0,470.1 1062.0,468.0 1066.0,466.0 1070.0,464.0 1074.0,462.1 1078.0,460.2 1082.0,458.3 1086.0,456.4 1090.0,454.5 1094.0,452.6 1098.0,450.8 1102.0,448.9 1106.0,447.1 1110.0,445.2 1114.0,443.4 1118.0,441.7 1122.0,440.1 1126.0,438.5 1130.0,436.9 1134.0,435.1 1138.0,433.1 1142.0,430.7 1146.0,427.8 1150.0,424.7 1154.0,421.5 1158.0,418.4 1162.0,415.3 1166.0,412.3 1170.0,409.2 1174.0,406.1 1178.0,403.1 1182.0,400.1 1186.0,397.2 1190.0,394.3 1194.0,391.5 1198.0,388.7 1202.0,385.8 1206.0,383.0 1210.0,380.1 1214.0,377.1 1218.0,374.1 1222.0,371.1 1226.0,368.1 1230.0,365.0 1234.0,362.0 1238.0,358.9 1242.0,355.9 1246.0,352.8 1250.0,349.7 1254.0,346.4 1258.0,343.2 1262.0,340.1 1266.0,337.1 1270.0,334.4 1274.0,331.9 1278.0,329.8 1282.0,327.9 1286.0,326.2 1290.0,324.3 1294.0,322.2 1298.0,320.0 1302.0,317.8 1306.0,315.5 1310.0,313.1 1314.0,310.6 1318.0,308.0 1322.0,305.2 1326.0,302.3 1330.0,299.0 1334.0,295.6 1338.0,292.0 1342.0,288.3 1346.0,284.6 1350.0,281.0 1354.0,277.4 1358.0,274.0 1362.0,270.5 1366.0,267.1 1370.0,263.7 1374.0,260.3 1378.0,257.0 1382.0,253.7 1386.0,250.3 1390.0,247.1 1394.0,244.3 1398.0,242.0 1402.0,239.9 1406.0,238.2 1410.0,236.7 1414.0,235.5 1416.5,234.8" fill="none" stroke="#0000ff" stroke-width="2" stroke-linejoin="round" shape-rendering="crispEdges"/>
<polyline points="2.0,758.8 6.0,757.1 10.0,755.9 14.0,755.3 18.0,754.9 22.0,754.5 26.0,753.8 30.0,752.1 34.0,750.4 38.0,749.8 42.0,749.5 46.0,749.5 50.0,749.5 54.0,750.4 58.0,751.5 62.0,751.7 66.0,751.8 70.0,751.8 74.0,752.0 78.0,752.6 82.0,753.8 86.0,755.2 90.0,756.5 94.0,757.8 98.0,759.3 102.0,760.7 106.0,761.8 110.0,762.7 114.0,763.4 118.0,764.1 122.0,764.8 126.0,765.7 130.0,766.7 134.0,767.6 138.0,768.4 142.0,768.9 146.0,769.3 150.0,769.7 154.0,770.3 158.0,771.2 162.0,772.4 166.0,773.7 170.0,775.0 174.0,776.3 178.0,777.6 182.0,778.8 186.0,779.8 190.0,780.5 194.0,781.2 198.0,782.2 202.0,783.5 206.0,784.9 210.0,786.2 214.0,787.5 218.0,788.8 222.0,790.1 226.0,791.3 230.0,792.4 234.0,793.3 238.0,794.0 242.0,794.6 246.0,795.0 250.0,795.5 254.0,797.5 258.0,800.1 262.0,802.1 266.0,803.7 270.0,804.6 274.0,805.3 278.0,806.2 282.0,806.7 286.0,806.7 290.0,806.7 294.0,806.7 298.0,806.7 302.0,806.7 306.0,806.7 310.0,806.7 314.0,806.7 318.0,805.4 322.0,803.7 326.0,803.0 330.0,802.6 334.0,802.5 338.0,802.4 342.0,802.4 346.0,802.4 350.0,802.4 354.0,802.4 358.0,802.8 362.0,803.5 366.0,803.9 370.0,804.4 374.0,805.5 378.0,806.9 382.0,808.4 386.0,809.5 390.0,810.0 394.0,810.4 398.0,810.8 402.0,811.3 406.0,811.8 410.0,812.4 414.0,812.8 418.0,813.3 422.0,814.5 426.0,815.4 430.0,815.5 434.0,815.6 438.0,815.6 442.0,815.6 446.0,815.6 450.0,815.6 454.0,814.8 458.0,813.3 462.0,811.0 466.0,808.3 470.0,806.1 474.0,804.0 478.0,802.3 482.0,800.6 486.0,797.4 490.0,793.7 494.0,791.0 498.0,789.1 502.0,788.1 506.0,787.3 510.0,786.1 514.0,784.8 518.0,783.7 522.0,782.7 526.0,782.1 530.0,781.5 534.0,780.7 538.0,779.7 542.0,778.3 546.0,776.6 550.0,775.0 554.0,773.4 558.0,771.6 562.0,769.8 566.0,768.3 570.0,766.8 574.0,765.1 578.0,763.2 582.0,760.7 586.0,758.9 590.0,758.6 594.0,758.4 598.0,758.1 602.0,757.6 606.0,756.2 610.0,753.8 614.0,750.7 618.0,746.7 622.0,742.1 626.0,737.1 630.0,732.3 634.0,727.7 638.0,723.8 642.0,720.1 646.0,716.2 650.0,712.4 654.0,708.8 658.0,705.3 662.0,701.8 666.0,698.5 670.0,695.5 674.0,692.6 678.0,690.0 682.0,687.4 686.0,684.5 690.0,681.5 694.0,678.3 698.0,675.0 702.0,671.7 706.0,668.4 710.0,665.2 714.0,662.1 718.0,658.9 722.0,655.2 726.0,651.0 730.0,646.8 734.0,642.3 738.0,637.6 742.0,632.5 746.0,626.9 750.0,620.4 754.0,613.5 758.0,606.5 762.0,599.2 766.0,591.7 770.0,584.1 774.0,576.4 778.0,568.4 782.0,559.9 786.0,553.0 790.0,548.4 794.0,544.7 798.0,541.1 802.0,536.7 806.0,531.7 810.0,526.5 814.0,521.3 818.0,516.1 822.0,510.8 826.0,505.4 830.0,499.8 834.0,494.0 838.0,488.2 842.0,482.5 846.0,477.1 850.0,471.7 854.0,466.5 858.0,461.4 862.0,456.4 866.0,451.5 870.0,446.7 874.0,442.0 878.0,437.4 882.0,432.6 886.0,427.7 890.0,422.7 894.0,417.6 898.0,412.3 902.0,406.8 906.0,401.1 910.0,395.1 914.0,388.5 918.0,381.4 922.0,374.1 926.0,367.0 930.0,360.0 934.0,353.1 938.0,346.3 942.0,339.7 946.0,333.4 950.0,327.2 954.0,321.0 958.0,314.8 962.0,308.5 966.0,301.9 970.0,295.8 974.0,290.2 978.0,285.0 982.0,280.2 986.0,275.6 990.0,271.4 994.0,267.4 998.0,263.6 1002.0,260.3 1006.0,257.4 1010.0,254.7 1014.0,252.2 1018.0,250.0 1022.0,248.0 1026.0,246.2 1030.0,244.5 1034.0,242.9 1038.0,241.3 1042.0,239.8 1046.0,238.4 1050.0,237.3 1054.0,236.3 1058.0,235.4 1062.0,234.7 1066.0,233.9 1070.0,233.1 1074.0,232.4 1078.0,231.7 1082.0,230.9 1086.0,230.2 1090.0,229.4 1094.0,228.6 1098.0,227.8 1102.0,226.8 1106.0,225.7 1110.0,225.2 1114.0,225.2 1118.0,225.2 1122.0,225.2 1126.0,225.4 1130.0,226.1 1134.0,226.8 1138.0,227.5 1142.0,227.9 1146.0,228.2 1150.0,228.5 1154.0,228.9 1158.0,229.5 1162.0,230.4 1166.0,232.0 1170.0,234.2 1174.0,235.8 1178.0,237.3 1182.0,239.3 1186.0,240.9 1190.0,240.4 1194.0,239.3 1198.0,238.0 1202.0,236.6 1206.0,235.7 1210.0,234.9 1214.0,234.1 1218.0,233.3 1222.0,232.2 1226.0,231.0 1230.0,229.8 1234.0,228.8 1238.0,227.9 1242.0,227.3 1246.0,226.6 1250.0,225.8 1254.0,224.5 1258.0,223.2 1262.0,222.2 1266.0,221.5 1270.0,221.5 1274.0,221.8 1278.0,222.3 1282.0,223.2 1286.0,224.1 1290.0,225.1 1294.0,226.2 1298.0,227.4 1302.0,228.7 1306.0,230.2 1310.0,231.7 1314.0,233.0 1318.0,234.1 1322.0,234.9 1326.0,235.4 1330.0,235.7 1334.0,235.9 1338.0,236.2 1342.0,236.4 1346.0,236.7 1350.0,236.8 1354.0,236.7 1358.0,236.5 1362.0,236.2 1366.0,235.8 1370.0,235.1 1374.0,234.4 1378.0,233.3 1382.0,231.8 1386.0,229.7 1390.0,228.0 1394.0,226.3 1398.0,224.3 1402.0,222.5 1406.0,221.4 1410.0,220.5 1414.0,219.7 1418.0,219.1 1418.5,219.0" fill="none" stroke="#ff0000" stroke-width="2" stroke-linejoin="round" shape-rendering="crispEdges"/>
<line x1="783.5" y1="10.8" x2="1675" y2="49.5" stroke="#ff0000" stroke-width="3" stroke-linecap="round" shape-rendering="crispEdges"/>
<line x1="794" y1="513.3" x2="1683" y2="282.8" stroke="#ff0000" stroke-width="3" stroke-linecap="round" shape-rendering="crispEdges"/>
<g stroke="#0000ff" stroke-width="7.0" stroke-linecap="round" stroke-linejoin="round" fill="none" shape-rendering="crispEdges">
<line x1="780.5" y1="10.5" x2="804.7" y2="507"/>
<line x1="804.7" y1="507" x2="811.1" y2="481.8"/>
<line x1="804.7" y1="507" x2="794.2" y2="483.2"/>
<line x1="804.7" y1="507" x2="933.6" y2="25"/>
<line x1="933.6" y1="25" x2="918.6" y2="45.6"/>
<line x1="933.6" y1="25" x2="936.3" y2="50.4"/>
<line x1="933.6" y1="25" x2="1080.3" y2="437"/>
<line x1="1080.3" y1="437" x2="1080.9" y2="411.0"/>
<line x1="1080.3" y1="437" x2="1063.4" y2="417.3"/>
<line x1="1080.3" y1="437" x2="1347.5" y2="36"/>
<line x1="1347.5" y1="36" x2="1327.4" y2="51.6"/>
<line x1="1347.5" y1="36" x2="1342.1" y2="60.9"/>
<line x1="1354.5" y1="35" x2="1452.3" y2="337.2"/>
<line x1="1452.3" y1="337.2" x2="1453.7" y2="311.2"/>
<line x1="1452.3" y1="337.2" x2="1436.0" y2="317.0"/>
<line x1="1452.3" y1="337.2" x2="1563.8" y2="54.5"/>
<line x1="1563.8" y1="54.5" x2="1546.2" y2="73.7"/>
<line x1="1563.8" y1="54.5" x2="1564.0" y2="80.5"/>
</g>
</g>
<g shape-rendering="crispEdges" fill="#000">
<rect x="2" y="0" width="1" height="973"/>
<rect x="1755" y="0" width="1" height="973"/>
<rect x="2" y="972" width="1754" height="1"/>
<rect x="1756" y="9" width="4" height="1"/>
<rect x="1756" y="41" width="4" height="1"/>
<rect x="1756" y="73" width="4" height="1"/>
<rect x="1756" y="105" width="4" height="1"/>
<rect x="1756" y="137" width="4" height="1"/>
<rect x="1756" y="169" width="4" height="1"/>
<rect x="1756" y="202" width="4" height="1"/>
<rect x="1756" y="234" width="4" height="1"/>
<rect x="1756" y="266" width="4" height="1"/>
<rect x="1756" y="298" width="4" height="1"/>
<rect x="1756" y="330" width="4" height="1"/>
<rect x="1756" y="362" width="4" height="1"/>
<rect x="1756" y="394" width="4" height="1"/>
<rect x="1756" y="426" width="4" height="1"/>
<rect x="1756" y="458" width="4" height="1"/>
<rect x="1756" y="490" width="4" height="1"/>
<rect x="1756" y="523" width="4" height="1"/>
<rect x="1756" y="555" width="4" height="1"/>
<rect x="1756" y="587" width="4" height="1"/>
<rect x="1756" y="619" width="4" height="1"/>
<rect x="1756" y="651" width="4" height="1"/>
<rect x="1756" y="683" width="4" height="1"/>
<rect x="1756" y="715" width="4" height="1"/>
<rect x="1756" y="747" width="4" height="1"/>
<rect x="1756" y="779" width="4" height="1"/>
<rect x="1756" y="811" width="4" height="1"/>
<rect x="1756" y="844" width="4" height="1"/>
<rect x="1756" y="876" width="4" height="1"/>
<rect x="1756" y="908" width="4" height="1"/>
<rect x="1756" y="940" width="4" height="1"/>
<rect x="2" y="973" width="1" height="3"/>
<rect x="66" y="973" width="1" height="3"/>
<rect x="130" y="973" width="1" height="3"/>
<rect x="194" y="973" width="1" height="3"/>
<rect x="258" y="973" width="1" height="3"/>
<rect x="322" y="973" width="1" height="3"/>
<rect x="386" y="973" width="1" height="3"/>
<rect x="450" y="973" width="1" height="3"/>
<rect x="514" y="973" width="1" height="3"/>
<rect x="578" y="973" width="1" height="3"/>
<rect x="642" y="973" width="1" height="3"/>
<rect x="706" y="973" width="1" height="3"/>
<rect x="770" y="973" width="1" height="3"/>
<rect x="834" y="973" width="1" height="3"/>
<rect x="898" y="973" width="1" height="3"/>
<rect x="962" y="973" width="1" height="3"/>
<rect x="1026" y="973" width="1" height="3"/>
<rect x="1090" y="973" width="1" height="3"/>
<rect x="1154" y="973" width="1" height="3"/>
<rect x="1218" y="973" width="1" height="3"/>
<rect x="1282" y="973" width="1" height="3"/>
<rect x="1346" y="973" width="1" height="3"/>
<rect x="1410" y="973" width="1" height="3"/>
</g>
<polygon points="1414,0 1423,0 1418.5,5" fill="#778899" shape-rendering="crispEdges"/>
<g class="ax">
<text transform="translate(1761,13) scale(1,1.09)">4353.60</text>
<text transform="translate(1761,45) scale(1,1.09)">4347.45</text>
<text transform="translate(1761,77) scale(1,1.09)">4341.30</text>
<text transform="translate(1761,109) scale(1,1.09)">4335.15</text>
<text transform="translate(1761,141) scale(1,1.09)">4329.00</text>
<text transform="translate(1761,173) scale(1,1.09)">4322.85</text>
<text transform="translate(1761,206) scale(1,1.09)">4316.70</text>
<text transform="translate(1761,238) scale(1,1.09)">4310.55</text>
<text transform="translate(1761,270) scale(1,1.09)">4304.40</text>
<text transform="translate(1761,302) scale(1,1.09)">4298.25</text>
<text transform="translate(1761,334) scale(1,1.09)">4292.10</text>
<text transform="translate(1761,366) scale(1,1.09)">4285.95</text>
<text transform="translate(1761,398) scale(1,1.09)">4279.80</text>
<text transform="translate(1761,430) scale(1,1.09)">4273.65</text>
<text transform="translate(1761,462) scale(1,1.09)">4267.50</text>
<text transform="translate(1761,494) scale(1,1.09)">4261.35</text>
<text transform="translate(1761,527) scale(1,1.09)">4255.20</text>
<text transform="translate(1761,559) scale(1,1.09)">4249.05</text>
<text transform="translate(1761,591) scale(1,1.09)">4242.90</text>
<text transform="translate(1761,623) scale(1,1.09)">4236.75</text>
<text transform="translate(1761,655) scale(1,1.09)">4230.60</text>
<text transform="translate(1761,687) scale(1,1.09)">4224.45</text>
<text transform="translate(1761,719) scale(1,1.09)">4218.30</text>
<text transform="translate(1761,751) scale(1,1.09)">4212.15</text>
<text transform="translate(1761,783) scale(1,1.09)">4206.00</text>
<text transform="translate(1761,815) scale(1,1.09)">4199.85</text>
<text transform="translate(1761,848) scale(1,1.09)">4193.70</text>
<text transform="translate(1761,880) scale(1,1.09)">4187.55</text>
<text transform="translate(1761,912) scale(1,1.09)">4181.40</text>
<text transform="translate(1761,944) scale(1,1.09)">4175.25</text>
</g>
<rect x="1758" y="141" width="39" height="11" fill="#000" shape-rendering="crispEdges"/>
<text class="ax" transform="translate(1761,150) scale(1,1.09)" style="fill:#fff;stroke:#fff">4327.38</text>
<g class="ax">
<text transform="translate(2,985) scale(1,1.09)">8 Dec 2025</text>
<text transform="translate(66,985) scale(1,1.09)">8 Dec 18:00</text>
<text transform="translate(130,985) scale(1,1.09)">9 Dec 03:00</text>
<text transform="translate(194,985) scale(1,1.09)">9 Dec 11:00</text>
<text transform="translate(258,985) scale(1,1.09)">9 Dec 19:00</text>
<text transform="translate(322,985) scale(1,1.09)">10 Dec 04:00</text>
<text transform="translate(386,985) scale(1,1.09)">10 Dec 12:00</text>
<text transform="translate(450,985) scale(1,1.09)">10 Dec 20:00</text>
<text transform="translate(514,985) scale(1,1.09)">11 Dec 05:00</text>
<text transform="translate(578,985) scale(1,1.09)">11 Dec 13:00</text>
<text transform="translate(642,985) scale(1,1.09)">11 Dec 21:00</text>
<text transform="translate(706,985) scale(1,1.09)">12 Dec 06:00</text>
<text transform="translate(770,985) scale(1,1.09)">12 Dec 14:00</text>
<text transform="translate(834,985) scale(1,1.09)">12 Dec 22:00</text>
<text transform="translate(898,985) scale(1,1.09)">15 Dec 07:00</text>
<text transform="translate(962,985) scale(1,1.09)">15 Dec 15:00</text>
<text transform="translate(1026,985) scale(1,1.09)">15 Dec 23:00</text>
<text transform="translate(1090,985) scale(1,1.09)">16 Dec 08:00</text>
<text transform="translate(1154,985) scale(1,1.09)">16 Dec 16:00</text>
<text transform="translate(1218,985) scale(1,1.09)">17 Dec 01:00</text>
<text transform="translate(1282,985) scale(1,1.09)">17 Dec 09:00</text>
<text transform="translate(1346,985) scale(1,1.09)">17 Dec 17:00</text>
<text transform="translate(1410,985) scale(1,1.09)">18 Dec 02:00</text>
</g>
<text class="hd" transform="translate(6.4,10) scale(1,1.12)" xml:space="preserve">XAUUSD_, H1:  Gold vs US Dollar</text>
<text class="ttl" x="98.6" y="61.6" style="fill:#14148c;color:#14148c">黄金<tspan class="one" dx="-1.6">1</tspan><tspan dx="-1.4">小时图</tspan></text>
<text class="ttl" x="98" y="61" style="color:#0000ff">黄金<tspan class="one" dx="-1.6">1</tspan><tspan dx="-1.4">小时图</tspan></text>
</svg></body></html>
